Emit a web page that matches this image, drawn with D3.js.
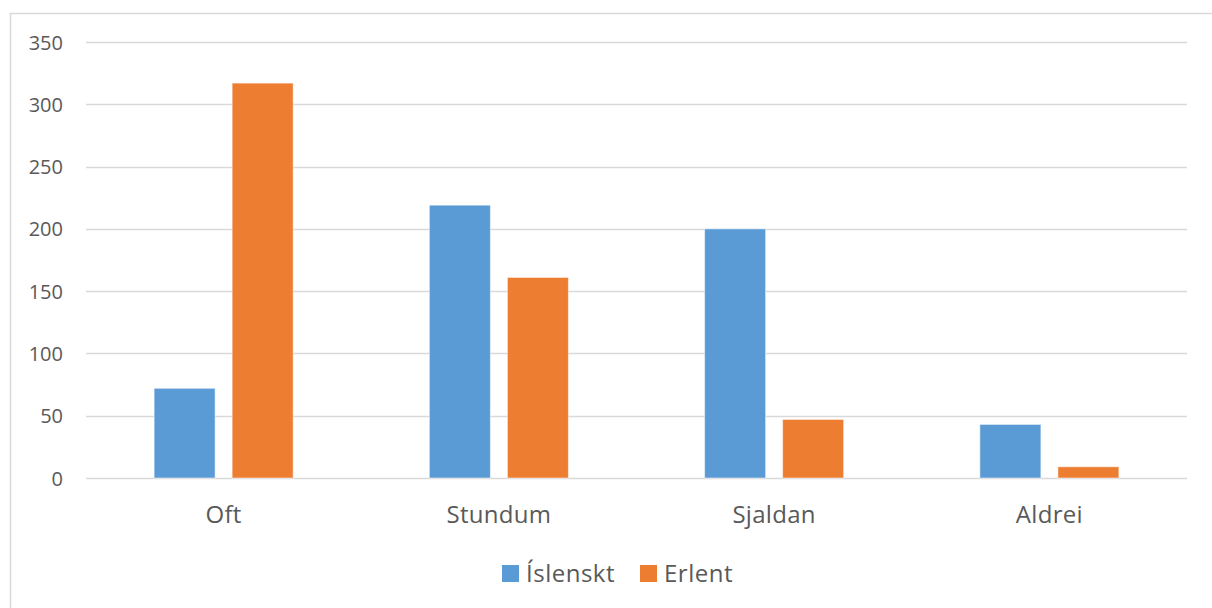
<!DOCTYPE html>
<html><head><meta charset="utf-8">
<script src="https://cdn.jsdelivr.net/npm/d3@7"></script>
<style>html,body{margin:0;padding:0;background:#fff}</style>
</head><body>
<svg id="c" width="1212" height="608"></svg>
<script>
const categories = ["Oft", "Stundum", "Sjaldan", "Aldrei"];
const seriesNames = ["Íslenskt", "Erlent"];
const islenskt = [72, 219, 200, 43];
const erlent = [317, 161, 47, 9];
const yTicks = [0, 50, 100, 150, 200, 250, 300, 350];
const colors = ["#5B9BD5", "#ED7D31"];

const svg = d3.select("#c");
const font = "'Open Sans', sans-serif";
const textColor = "#595959";

svg.append("rect").attr("x", 10.5).attr("y", 13.5).attr("width", 1210).attr("height", 600)
  .attr("fill", "#fff").attr("stroke", "#D9D9D9").attr("stroke-width", 1.5);

const plotLeft = 86, plotRight = 1187, plotTop = 42, plotBottom = 478;
const x = d3.scaleBand().domain(categories).range([plotLeft, plotRight]).paddingInner(0).paddingOuter(0);
const y = d3.scaleLinear().domain([0, 350]).range([plotBottom, plotTop]);
const x1 = d3.scaleBand().domain(seriesNames).range([0, x.bandwidth()]).paddingInner(0.218).paddingOuter(0.873);

// gridlines
svg.append("g").selectAll("line").data(yTicks).join("line")
  .attr("x1", plotLeft).attr("x2", plotRight)
  .attr("y1", d => Math.round(y(d)) + 0.5).attr("y2", d => Math.round(y(d)) + 0.5)
  .attr("stroke", "#D9D9D9").attr("stroke-width", 1.5);

// y axis labels
const yAxis = d3.axisLeft(y).tickValues(yTicks).tickSize(0).tickPadding(0);
const gy = svg.append("g").attr("transform", "translate(63,0)").call(yAxis);
gy.select(".domain").remove();
gy.selectAll("text").attr("font-family", font).attr("font-size", 20).attr("fill", textColor)
  .attr("dy", "0.35em");

// bars
const data = categories.map((c, i) => ({ c, vals: [islenskt[i], erlent[i]] }));
const groups = svg.append("g").selectAll("g").data(data).join("g")
  .attr("transform", d => `translate(${x(d.c)},0)`);
groups.selectAll("rect").data(d => d.vals.map((v, j) => ({ v, s: seriesNames[j], j }))).join("rect")
  .attr("x", d => x1(d.s)).attr("width", x1.bandwidth())
  .attr("y", d => y(d.v)).attr("height", d => y(0) - y(d.v))
  .attr("fill", d => colors[d.j])
  .attr("stroke", "#fff").attr("stroke-opacity", 0.5).attr("stroke-width", 1);

// x axis labels
const xAxis = d3.axisBottom(x).tickSize(0).tickPadding(0);
const gx = svg.append("g").attr("transform", "translate(0,505)").call(xAxis);
gx.select(".domain").remove();
gx.selectAll("text").attr("font-family", font).attr("font-size", 24).attr("fill", textColor)
  .attr("dy", "0.75em").attr("letter-spacing", "0.3px");

// legend
const legend = svg.append("g");
const legendItems = [{ name: seriesNames[0], x: 502 }, { name: seriesNames[1], x: 640 }];
legendItems.forEach((it, i) => {
  legend.append("rect").attr("x", it.x).attr("y", 565).attr("width", 17).attr("height", 17).attr("fill", colors[i]);
  legend.append("text").attr("x", it.x + 24).attr("y", 582).attr("font-family", font).attr("font-size", 24)
    .attr("letter-spacing", "0.5px").attr("fill", textColor).text(it.name);
});
</script>
</body></html>
